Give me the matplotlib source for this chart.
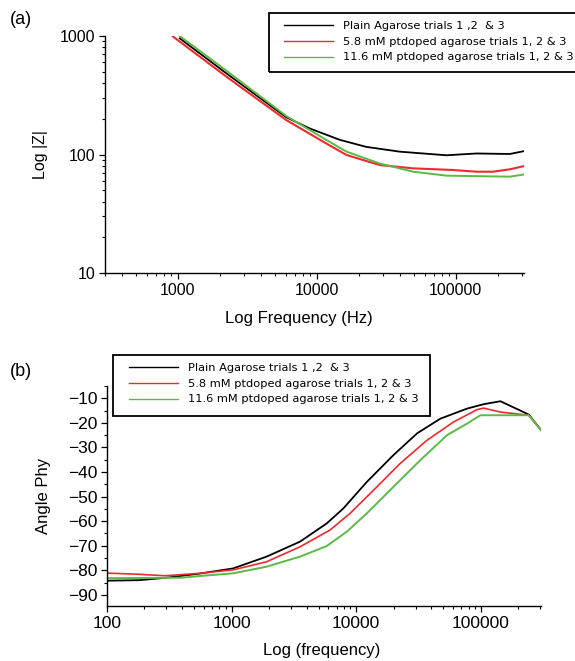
import matplotlib
matplotlib.use("Agg")
import matplotlib.pyplot as plt
from matplotlib.patches import Rectangle
from matplotlib.ticker import LogLocator, NullFormatter, FixedLocator, MultipleLocator

plt.rcParams['font.family'] = ['Liberation Sans', 'DejaVu Sans']

# ---------------- data: panel (a) |Z| vs frequency ----------------
fa_black = [1034, 2240, 6050, 8900, 14650, 22700, 39500, 85700, 141000, 245000, 313000]
za_black = [956, 484, 206, 166, 133, 116, 105.7, 98.5, 102, 101, 107]
fa_red = [925, 2240, 6050, 11700, 16400, 28400, 49300, 95500, 141000, 186000, 245000, 313000]
za_red = [990, 454, 195, 124, 99, 81.5, 76.4, 74, 71.6, 71.6, 75, 80]
fa_green = [1034, 2240, 6050, 11700, 16400, 28400, 49300, 85700, 245000, 313000]
za_green = [1000, 510, 211, 133, 105.7, 84, 71.6, 66.3, 65, 68]

# ---------------- data: panel (b) phase vs frequency ----------------
fb_black = [100, 181, 300, 556, 1031, 1913, 3550, 5810, 7900, 12200, 19950, 30800, 47400, 77700, 105700, 144000, 243000, 321000]
pb_black = [-84.2, -84.0, -83.0, -81.3, -79.2, -74.4, -68.3, -60.9, -54.8, -44.0, -33.1, -24.3, -18.3, -14.2, -12.4, -11.2, -16.6, -24.3]
fb_red = [100, 181, 291, 556, 1031, 1913, 3550, 6170, 8950, 13800, 22600, 37000, 60700, 93600, 105700, 144000, 243000, 321000]
pb_red = [-81.1, -81.6, -82.2, -81.2, -79.8, -76.5, -70.4, -63.6, -56.8, -47.4, -36.5, -27.1, -19.6, -14.6, -14.0, -15.6, -16.9, -24.3]
fb_green = [100, 400, 556, 1031, 1913, 3550, 5810, 8400, 12200, 19950, 32700, 53700, 77700, 99600, 243000, 321000]
pb_green = [-83.2, -83.0, -82.3, -81.2, -78.5, -74.4, -70.1, -64.3, -56.8, -46.0, -35.2, -25.0, -20.3, -16.9, -16.9, -24.3]

labels = ["Plain Agarose trials 1 ,2  & 3",
          "5.8 mM ptdoped agarose trials 1, 2 & 3",
          "11.6 mM ptdoped agarose trials 1, 2 & 3"]
colors = ["#000000", "#ee2a2e", "#5cb946"]

W, H = 575, 661
fig = plt.figure(figsize=(W / 100, H / 100), dpi=100)

def box(l, r, t, b):
    return [l / W, 1 - b / H, (r - l) / W, (b - t) / H]

def style(ax):
    ax.spines['top'].set_visible(False)
    ax.spines['right'].set_visible(False)
    for s in ('left', 'bottom'):
        ax.spines[s].set_linewidth(1.0)
    ax.tick_params(which='major', direction='out', length=4, width=0.9, labelsize=10.5, pad=3)
    ax.tick_params(which='minor', direction='out', length=2.5, width=0.8)

# ---------- panel (a) ----------
axa = fig.add_axes(box(105, 524, 36, 273))
axa.plot(fa_black, za_black, color=colors[0], lw=1.3, label=labels[0])
axa.plot(fa_red, za_red, color=colors[1], lw=1.5, label=labels[1])
axa.plot(fa_green, za_green, color=colors[2], lw=1.4, label=labels[2])
axa.set_xscale('log')
axa.set_yscale('log')
axa.set_xlim(300, 3.1e5)
axa.set_ylim(10, 1000)
axa.xaxis.set_major_locator(FixedLocator([1000, 10000, 100000]))
axa.set_xticklabels(["1000", "10000", "100000"])
axa.xaxis.set_minor_locator(LogLocator(base=10, subs=range(2, 10), numticks=20))
axa.xaxis.set_minor_formatter(NullFormatter())
axa.yaxis.set_major_locator(FixedLocator([10, 100, 1000]))
axa.set_yticklabels(["10", "100", "1000"])
axa.yaxis.set_minor_locator(LogLocator(base=10, subs=range(2, 10), numticks=20))
axa.yaxis.set_minor_formatter(NullFormatter())
style(axa)
axa.tick_params(axis='both', labelsize=11.5)
axa.set_xlabel("Log Frequency (Hz)", fontsize=12)
axa.xaxis.set_label_coords((299 - 105) / 419, -(311 - 273) / 237)
axa.set_ylabel("Log |Z|", fontsize=11.5)
axa.yaxis.set_label_coords(-(105 - 48) / 419, 0.5)

# ---------- panel (b) ----------
axb = fig.add_axes(box(107, 541, 386, 606))
axb.plot(fb_black, pb_black, color=colors[0], lw=1.3, label=labels[0])
axb.plot(fb_red, pb_red, color=colors[1], lw=1.2, label=labels[1])
axb.plot(fb_green, pb_green, color=colors[2], lw=1.4, label=labels[2])
axb.set_xscale('log')
axb.set_xlim(100, 3.05e5)
axb.set_ylim(-94.5, -5)
axb.xaxis.set_major_locator(FixedLocator([100, 1000, 10000, 100000]))
axb.set_xticklabels(["100", "1000", "10000", "100000"])
axb.xaxis.set_minor_locator(LogLocator(base=10, subs=range(2, 10), numticks=20))
axb.xaxis.set_minor_formatter(NullFormatter())
axb.yaxis.set_major_locator(FixedLocator(list(range(-90, 0, 10))))
axb.set_yticklabels(["\u221290", "\u221280", "\u221270", "\u221260", "\u221250",
                     "\u221240", "\u221230", "\u221220", "\u221210"])
axb.yaxis.set_minor_locator(MultipleLocator(5))
style(axb)
axb.tick_params(axis='both', labelsize=12.5)
axb.set_xlabel("Log (frequency)", fontsize=12)
axb.xaxis.set_label_coords((322 - 107) / 434, -(643 - 606) / 220)
axb.set_ylabel("Angle Phy", fontsize=12)
axb.yaxis.set_label_coords(-(107 - 51) / 434, 0.5)

# ---------- legends (frame drawn separately) ----------
def add_legend(ax, x, y, frame):
    leg = fig.legend(*ax.get_legend_handles_labels(), loc='upper left',
                     bbox_to_anchor=(x / W, 1 - y / H), bbox_transform=fig.transFigure,
                     prop={'family': 'DejaVu Sans', 'size': 8.2}, frameon=False,
                     borderpad=0.8, handlelength=4.3, handletextpad=0.9, labelspacing=0.5,
                     borderaxespad=0)
    for ln in leg.get_lines():
        ln.set_linewidth(1.0)
    l, r, t, b = frame
    fig.patches.append(Rectangle((l / W, 1 - b / H), (r - l) / W, (b - t) / H,
                                 transform=fig.transFigure, fill=False,
                                 edgecolor='black', linewidth=1.3))
    return leg

add_legend(axa, 275, 12, (269, 610, 13, 72))
add_legend(axb, 120, 354, (113, 430, 355, 416))

fig.text(10 / W, 1 - 20 / H, "(a)", fontsize=13, va='center', ha='left')
fig.text(10 / W, 1 - 372 / H, "(b)", fontsize=13, va='center', ha='left')

fig.savefig("out.png", dpi=100)
